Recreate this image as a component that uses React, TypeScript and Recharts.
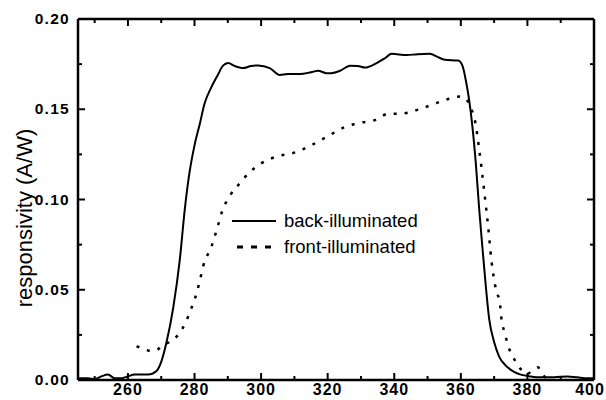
import React from "react";
import { LineChart, Line, XAxis, YAxis } from "recharts";

// back-illuminated (solid)
const backWavelength = [
  245, 248, 250, 252, 254, 256, 258, 260, 262, 264, 266, 268.6, 270, 271.6, 273.6, 275.6, 277.1, 278.5, 280,
  281.6, 283, 285, 287, 288.5, 290.1, 292, 294.6, 297, 299.1, 302.6, 305.6, 308, 311.7, 315, 317.1, 319.7, 321,
  323.7, 326.7, 329, 331.2, 334.7, 337, 339.2, 343.7, 347, 350.7, 353, 355.2, 359.2, 360.5, 361.5, 362.5, 363.5,
  364.5, 365.5, 366.5, 367.5, 368.5, 370, 371.5, 373.5, 376, 378, 381, 384, 388, 392, 395, 398, 400,
];
const backValue = [
  0.001, 0.001, 0.0005, 0.002, 0.003, 0.001, 0.001, 0.002, 0.003, 0.003, 0.003, 0.005, 0.01, 0.021, 0.04, 0.067,
  0.095, 0.115, 0.13, 0.142, 0.153, 0.162, 0.169, 0.174, 0.1756, 0.174, 0.1728, 0.174, 0.1743, 0.1728, 0.169,
  0.1695, 0.1695, 0.1705, 0.1713, 0.17, 0.17, 0.1713, 0.1741, 0.174, 0.1731, 0.1756, 0.178, 0.1807, 0.18, 0.1805,
  0.1807, 0.179, 0.1774, 0.177, 0.174, 0.166, 0.155, 0.14, 0.12, 0.095, 0.073, 0.052, 0.034, 0.021, 0.013, 0.008,
  0.0045, 0.003, 0.002, 0.0015, 0.0015, 0.002, 0.0015, 0.001, 0.001,
];

// front-illuminated (dashed)
const frontWavelength = [
  262.6, 265, 267.1, 269, 270.6, 272.5, 274.6, 277.1, 279.1, 280.6, 281.6, 282.6, 285.1, 286.8, 288.4, 290.6,
  293.6, 296.5, 300, 305, 310, 315, 320, 325, 329.7, 334.2, 338.2, 342.2, 346.7, 351.2, 355.7, 359.7, 361.5,
  362.7, 364.2, 365.5, 367, 368.2, 369.2, 370.7, 371.7, 372.2, 373.2, 374.2, 376.2, 378, 379.7, 381.5, 383.2,
  384.5, 385.7,
];
const frontValue = [
  0.0187, 0.017, 0.016, 0.017, 0.0195, 0.021, 0.024, 0.031, 0.04, 0.048, 0.055, 0.063, 0.074, 0.084, 0.094, 0.102,
  0.109, 0.115, 0.12, 0.124, 0.126, 0.13, 0.135, 0.14, 0.1425, 0.144, 0.1475, 0.1476, 0.1495, 0.1524, 0.1554,
  0.157, 0.156, 0.1517, 0.144, 0.128, 0.105, 0.085, 0.066, 0.049, 0.043, 0.034, 0.026, 0.019, 0.011, 0.006,
  0.0033, 0.005, 0.007, 0.003, 0.001,
];

const xTicks = [250, 260, 270, 280, 290, 300, 310, 320, 330, 340, 350, 360, 370, 380, 390, 400];
const yTicks = [0, 0.025, 0.05, 0.075, 0.1, 0.125, 0.15, 0.175, 0.2];

const backData = backWavelength.map((w, i) => ({ w, r: backValue[i] }));
const frontData = frontWavelength.map((w, i) => ({ w, r: frontValue[i] }));

const FONT = "'Liberation Sans', Arial, sans-serif";
const isMajorX = (v: number) => v % 20 === 0;
const isMajorY = (v: number) => Math.round(v * 1000) % 50 === 0;

const BottomTick = (props: any) => {
  const { x, y, payload } = props;
  const major = isMajorX(payload.value);
  return (
    <g>
      <line x1={x} y1={y} x2={x} y2={y - (major ? 7 : 4)} stroke="#000" strokeWidth={2} />
      {major && (
        <text
          x={payload.value === 400 ? x - 4 : x}
          y={y + 15}
          textAnchor="middle"
          fontFamily={FONT}
          fontWeight="bold"
          fontSize={16}
          letterSpacing={1}
          fill="#000"
        >
          {payload.value}
        </text>
      )}
    </g>
  );
};

const TopTick = (props: any) => {
  const { x, y, payload } = props;
  const major = isMajorX(payload.value);
  return <line x1={x} y1={y} x2={x} y2={y + (major ? 7 : 4)} stroke="#000" strokeWidth={2} />;
};

const LeftTick = (props: any) => {
  const { x, y, payload } = props;
  const major = isMajorY(payload.value);
  return (
    <g>
      <line x1={x} y1={y} x2={x + (major ? 7 : 4)} y2={y} stroke="#000" strokeWidth={2} />
      {major && (
        <text x={x - 8} y={y + 5} textAnchor="end" fontFamily={FONT} fontWeight="bold" fontSize={15.5} letterSpacing={1.3} fill="#000">
          {payload.value.toFixed(2)}
        </text>
      )}
    </g>
  );
};

const RightTick = (props: any) => {
  const { x, y, payload } = props;
  const major = isMajorY(payload.value);
  return <line x1={x} y1={y} x2={x - (major ? 7 : 4)} y2={y} stroke="#000" strokeWidth={2} />;
};

const YTitle = () => (
  <text
    x={24}
    y={218}
    transform="rotate(-90 24 218)"
    textAnchor="middle"
    dominantBaseline="central"
    fontFamily={FONT}
    fontSize={22}
    fill="#000"
  >
    responsivity (A/W)
  </text>
);

const LegendBox = () => (
  <div
    style={{
      position: "absolute",
      left: 228,
      top: 208,
      fontFamily: FONT,
      fontSize: 18.5,
      color: "#000",
      lineHeight: "26px",
    }}
  >
    <div style={{ display: "flex", alignItems: "center" }}>
      <svg width={50} height={10}>
        <line x1={4} y1={5} x2={48} y2={5} stroke="#000" strokeWidth={2} />
      </svg>
      <span style={{ marginLeft: 6 }}>back-illuminated</span>
    </div>
    <div style={{ display: "flex", alignItems: "center" }}>
      <svg width={50} height={10}>
        <line x1={9} y1={5} x2={48} y2={5} stroke="#000" strokeWidth={3} strokeDasharray="6 8" />
      </svg>
      <span style={{ marginLeft: 6 }}>front-illuminated</span>
    </div>
  </div>
);

export default function App() {
  return (
    <div style={{ position: "absolute", left: 0, top: 0, width: 606, height: 400, background: "#fff" }}>
      <LineChart width={606} height={400} margin={{ top: 0, right: 0, bottom: 0, left: 0 }}>
        <XAxis
          xAxisId="b"
          type="number"
          dataKey="w"
          domain={[245, 400]}
          ticks={xTicks}
          interval={0}
          allowDataOverflow
          height={20}
          tickSize={0}
          tickMargin={0}
          tickLine={false}
          tick={<BottomTick />}
          axisLine={{ stroke: "#000", strokeWidth: 2.5 }}
        />
        <XAxis
          xAxisId="t"
          orientation="top"
          type="number"
          dataKey="w"
          domain={[245, 400]}
          ticks={xTicks}
          interval={0}
          allowDataOverflow
          height={19}
          tickSize={0}
          tickMargin={0}
          tickLine={false}
          tick={<TopTick />}
          axisLine={{ stroke: "#000", strokeWidth: 2.5 }}
        />
        <YAxis
          yAxisId="l"
          type="number"
          domain={[0, 0.2]}
          ticks={yTicks}
          interval={0}
          allowDataOverflow
          width={78}
          tickSize={0}
          tickMargin={0}
          tickLine={false}
          tick={<LeftTick />}
          axisLine={{ stroke: "#000", strokeWidth: 2.5 }}
          label={{ content: () => <YTitle /> }}
        />
        <YAxis
          yAxisId="r"
          orientation="right"
          type="number"
          domain={[0, 0.2]}
          ticks={yTicks}
          interval={0}
          allowDataOverflow
          width={12}
          tickSize={0}
          tickMargin={0}
          tickLine={false}
          tick={<RightTick />}
          axisLine={{ stroke: "#000", strokeWidth: 2.5 }}
        />
        <Line
          xAxisId="b"
          yAxisId="l"
          data={backData}
          dataKey="r"
          type="monotone"
          stroke="#000"
          strokeWidth={2}
          dot={false}
          activeDot={false}
          isAnimationActive={false}
        />
        <Line
          xAxisId="b"
          yAxisId="l"
          data={frontData}
          dataKey="r"
          type="monotone"
          stroke="#000"
          strokeWidth={2.5}
          strokeDasharray="3 8"
          dot={false}
          activeDot={false}
          isAnimationActive={false}
        />
      </LineChart>
      <LegendBox />
    </div>
  );
}
